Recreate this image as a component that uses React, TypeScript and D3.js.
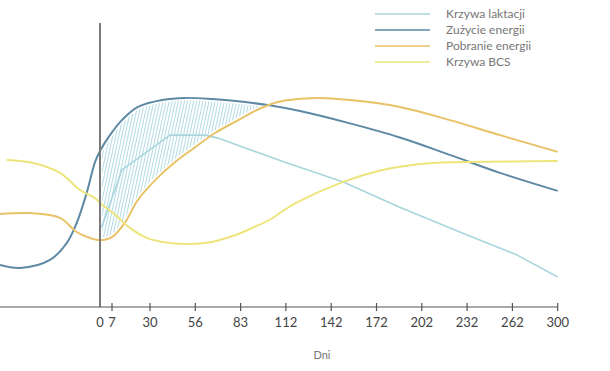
import * as d3 from 'd3'

// x axis ticks (days after calving)
const xTicks = [0, 7, 30, 56, 83, 112, 142, 172, 202, 232, 262, 300]

// Krzywa laktacji
const lactationDays = [1, 13, 41.5, 62, 69.5, 86, 111, 150, 187, 232, 266, 300]
const lactation = [26.7, 45.7, 57.3, 57.3, 56.3, 53, 48.3, 41.7, 33.3, 24, 17.3, 10]

// Zużycie energii
const useDays = [-60, -48, -30, -20, -14, -8, -3, 0, 5.8, 13, 22.7, 37, 50, 66, 86, 100.5, 121.3, 154.4, 187.5, 220.6, 253.8, 300]
const energyUse = [14, 13, 15.7, 21.3, 28, 38, 48.3, 52, 57.3, 62.3, 66.7, 69, 69.7, 69.3, 68.3, 67.3, 65.3, 61.2, 56.5, 50.7, 44.7, 38.7]

// Pobranie energii
const intakeDays = [-60, -42, -24, -14, -6, 0, 7, 15, 22.7, 33, 44.4, 56, 67.7, 79.6, 92, 101.8, 111.4, 132.6, 154.4, 187.5, 220.6, 253.8, 300]
const energyIntake = [31, 31.3, 29.7, 25, 23, 22.3, 23.3, 28.3, 35.7, 42.3, 48.3, 53.3, 58, 61.7, 65.3, 67.5, 68.8, 69.7, 69, 66.7, 62.3, 57.3, 51.7]

// Krzywa BCS
const bcsDays = [-56, -40, -24, -12, -3, 0, 9, 17, 27, 37, 52, 66, 80, 92, 103, 111.4, 121, 150, 176, 209, 232, 300]
const bcs = [49, 48, 44.7, 39, 36.3, 34.7, 30.7, 26.7, 23.3, 21.7, 21, 21.7, 24, 26.7, 29.5, 32.5, 35.3, 41.7, 45.7, 48, 48.3, 48.7]

const W = 610
const H = 371
const axisY = 307
const originX = 100
const font = 'Lato, "Noto Sans", sans-serif'

// piecewise day scale: pre-calving stretch on the left, 0 and 7 close together, then evenly spaced ticks
const dayStops = [-60, ...xTicks]
const stopX = [0, originX, originX + 12, ...xTicks.slice(2).map((_, i) => 150 + i * 45.3)]
const x = d3.scaleLinear().domain(dayStops).range(stopX)
const y = d3.scaleLinear().domain([0, 100]).range([axisY, 7])

const smooth = d3.curveCatmullRom.alpha(0.5)

const series = [
  { name: 'Krzywa laktacji', days: lactationDays, values: lactation, color: '#a9d6dd', width: 1.6, curve: d3.curveLinear },
  { name: 'Zużycie energii', days: useDays, values: energyUse, color: '#5e89a5', width: 2, curve: smooth },
  { name: 'Pobranie energii', days: intakeDays, values: energyIntake, color: '#e8c266', width: 2, curve: smooth },
  { name: 'Krzywa BCS', days: bcsDays, values: bcs, color: '#eee47c', width: 2, curve: smooth },
]

const pts = (days: number[], values: number[]) => days.map((d, i) => [d, values[i]] as [number, number])

const lineWith = (curve: d3.CurveFactory) =>
  d3
    .line<[number, number]>()
    .x(d => x(d[0]))
    .y(d => y(d[1]))
    .curve(curve)

const belowArea = d3
  .area<[number, number]>()
  .x(d => x(d[0]))
  .y0(axisY)
  .y1(d => y(d[1]))
  .curve(smooth)

const aboveArea = d3
  .area<[number, number]>()
  .x(d => x(d[0]))
  .y0(0)
  .y1(d => y(d[1]))
  .curve(smooth)

export default function App() {
  const usePts = pts(useDays, energyUse)
  const intakePts = pts(intakeDays, energyIntake)
  const smoothLine = lineWith(smooth)

  return (
    <svg width={W} height={H} style={{ position: 'absolute', left: 0, top: 0, background: '#fff' }}>
      <defs>
        <pattern id="hatch" width={3} height={3} patternUnits="userSpaceOnUse" patternTransform="rotate(12)">
          <line x1={0.5} y1={0} x2={0.5} y2={3} stroke="#b3dbe3" strokeWidth={1} />
        </pattern>
        <clipPath id="underUse">
          <path d={belowArea(usePts) ?? ''} />
        </clipPath>
        <clipPath id="overIntake">
          <path d={aboveArea(intakePts) ?? ''} />
        </clipPath>
      </defs>

      {/* deficit area between consumption and intake */}
      <g clipPath="url(#overIntake)">
        <rect
          x={x(1.2)}
          y={0}
          width={x(120) - x(1.2)}
          height={axisY}
          fill="url(#hatch)"
          clipPath="url(#underUse)"
        />
      </g>

      {/* white halo along the area edges */}
      <path d={smoothLine(usePts) ?? ''} fill="none" stroke="#fff" strokeWidth={5} />
      <path d={smoothLine(intakePts) ?? ''} fill="none" stroke="#fff" strokeWidth={5} />

      {series.map(s => (
        <path
          key={s.name}
          d={lineWith(s.curve)(pts(s.days, s.values)) ?? ''}
          fill="none"
          stroke={s.color}
          strokeWidth={s.width}
          strokeLinejoin="round"
        />
      ))}

      {/* calving day marker */}
      <line x1={x(0)} x2={x(0)} y1={23} y2={axisY} stroke="#7a7a7a" strokeWidth={2} />

      {/* x axis */}
      <line x1={0} x2={x(300)} y1={axisY} y2={axisY} stroke="#555" strokeWidth={1.2} />
      {xTicks.map(t => (
        <g key={t} transform={`translate(${x(t)},${axisY})`}>
          {t !== 0 && <line y1={-4} y2={4} stroke="#555" strokeWidth={1.2} />}
          <text y={20} textAnchor="middle" fontFamily={font} fontSize={13} fill="#444">
            {t}
          </text>
        </g>
      ))}
      <text x={322} y={359} textAnchor="middle" fontFamily={font} fontSize={11} fill="#777">
        Dni
      </text>

      {/* legend */}
      {series.map((s, i) => (
        <g key={s.name} transform={`translate(375,${14 + i * 16})`}>
          <line x1={0} x2={55} stroke={s.color} strokeWidth={1.6} />
          <text x={71} dy="0.35em" fontFamily={font} fontSize={12} fill="#777">
            {s.name}
          </text>
        </g>
      ))}
    </svg>
  )
}
